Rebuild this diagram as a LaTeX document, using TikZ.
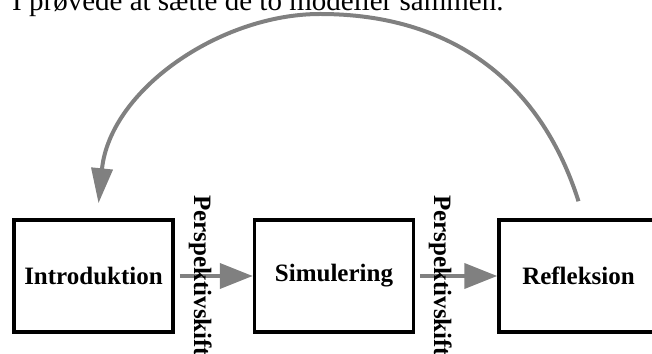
\documentclass[tikz,border=0pt]{standalone}
\usepackage{fontspec}
\setmainfont{Liberation Serif}
\usetikzlibrary{arrows.meta}
\usetikzlibrary{positioning}
\definecolor{flowgray}{RGB}{128,128,128}

\begin{document}
\begin{tikzpicture}[x=1pt,y=1pt,
phase/.style={draw=black,line width=3.5pt,minimum width=159pt,minimum height=112pt,inner sep=0pt,font=\fontsize{25}{30}\selectfont\bfseries},
shiftlabel/.style={rotate=-90,anchor=base west,inner sep=0pt,font=\fontsize{25}{30}\selectfont\bfseries},
flow/.style={draw=flowgray,line width=4pt,-{Triangle[length=33pt,width=25pt]}}]
\useasboundingbox (0,0) rectangle (652,353);
\clip (0,0) rectangle (652,353);
\node[anchor=base west,inner sep=0pt,font=\fontsize{29}{34}\selectfont] (caption) at (12,342) {I prøvede at sætte de to modeller sammen.};

\node[phase] (intro) at (93.5,77) {Introduktion};
\node[phase] (simu) at (334,77) {Simulering};
\node[phase] (refl) at (578.5,77) {Refleksion};

\draw[flow] ([xshift=5pt]intro.east) -- (simu.west);
\draw[flow] ([xshift=5pt]simu.east) -- (refl.west);
\draw[flow,-{Triangle[length=35pt,width=21pt]}] ([yshift=17pt]refl.north) .. controls (540,273) and (450,339) .. (320,339) .. controls (220,339) and (110,263) .. ([shift={(5pt,15pt)}]intro.north);

\node[shiftlabel] (shiftA) at (194,158) {Perspektivskift};
\node[shiftlabel] (shiftB) at (434,158) {Perspektivskift};
\end{tikzpicture}
\end{document}
